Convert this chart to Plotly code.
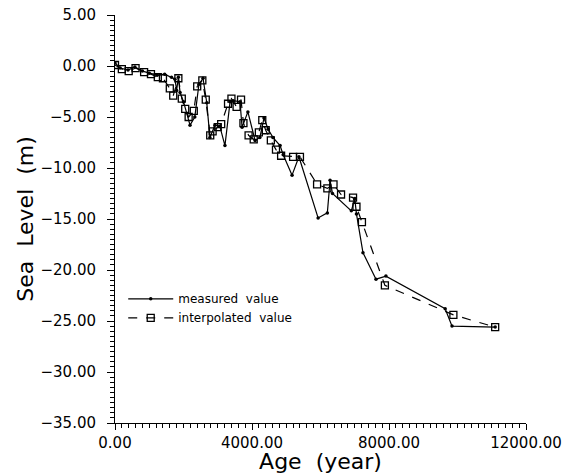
import plotly.graph_objects as go

# Measured values
meas_age = [0, 150, 380, 580, 800, 1000, 1230, 1450, 1650, 1750, 1800, 1850, 1900, 2000,
            2190, 2330, 2450, 2570, 2680, 2770, 2920, 3060, 3210, 3360, 3450, 3650, 3710,
            3880, 4090, 4230, 4350, 4470, 4610, 4820, 4910, 5170, 5370, 5930, 6200, 6280,
            6350, 6900, 7000, 7050, 7240, 7620, 7910, 9640, 9840, 11100]
meas_level = [0.3, -0.2, -0.4, -0.1, -0.5, -0.7, -0.9, -0.8, -1.1, -1.3, -2.4, -1.1, -2.6, -3.5,
              -5.8, -5.0, -1.8, -1.2, -3.6, -7.0, -5.8, -5.9, -7.8, -3.5, -3.4, -3.5, -6.0,
              -4.5, -7.3, -7.0, -5.1, -6.2, -7.0, -7.8, -8.7, -10.7, -8.9, -14.9, -14.4, -11.2,
              -12.5, -14.2, -13.0, -14.5, -18.3, -20.9, -20.6, -23.8, -25.5, -25.6]

# Interpolated values
interp_age = [0, 200, 400, 600, 850, 1050, 1250, 1400, 1600, 1700, 1850, 1950, 2050, 2150,
              2300, 2400, 2550, 2650, 2780, 2850, 3000, 3100, 3300, 3400, 3550, 3680, 3750,
              3900, 4050, 4200, 4300, 4400, 4550, 4700, 4850, 5200, 5400, 5900, 6200, 6380,
              6600, 6950, 7050, 7210, 7880, 9880, 11100]
interp_level = [0.1, -0.3, -0.5, -0.2, -0.6, -0.8, -1.1, -1.2, -2.2, -2.9, -1.2, -3.2, -4.2, -5.0,
                -4.4, -2.0, -1.4, -3.3, -6.8, -6.4, -6.0, -5.7, -3.7, -3.2, -4.0, -3.3, -5.6,
                -6.8, -7.2, -6.5, -5.3, -6.3, -7.3, -8.2, -8.8, -8.9, -8.9, -11.6, -12.0, -11.6,
                -12.6, -12.9, -13.8, -15.3, -21.5, -24.4, -25.6]

FONT = "DejaVu Sans"

fig = go.Figure()
fig.add_trace(go.Scatter(
    x=meas_age, y=meas_level, mode="lines+markers", name="measured  value",
    line=dict(color="black", width=1.2),
    marker=dict(symbol="circle", size=3.5, color="black"),
))
fig.add_trace(go.Scatter(
    x=interp_age, y=interp_level, mode="lines+markers", name="interpolated  value",
    line=dict(color="black", width=1.2, dash="dash"),
    marker=dict(symbol="square-open", size=7, color="black", line=dict(width=1.3)),
))

fig.update_layout(
    width=568, height=474,
    margin=dict(l=115, r=42, t=15, b=51),
    paper_bgcolor="white", plot_bgcolor="white",
    font=dict(family=FONT, color="black", size=15),
    showlegend=True,
    legend=dict(x=0.02, y=0.34, xanchor="left", yanchor="top",
                bgcolor="rgba(0,0,0,0)", font=dict(size=12, family=FONT),
                itemwidth=45, tracegroupgap=0),
    xaxis=dict(
        range=[0, 12000], tickvals=[0, 4000, 8000, 12000], tickformat=".2f",
        showgrid=False, zeroline=False, showline=True, linecolor="black", linewidth=1,
        ticks="outside", ticklen=6, tickcolor="black", tickwidth=1,
        tickfont=dict(size=15), automargin=False,
        minor=dict(dtick=200, ticks="outside", ticklen=4, tickcolor="black", tickwidth=1, showgrid=False),
        title=dict(text="Age  (year)", font=dict(size=22), standoff=0),
    ),
    yaxis=dict(
        range=[-35, 5], dtick=5, tick0=0, tickformat=".2f",
        showgrid=False, zeroline=False, showline=True, linecolor="black", linewidth=1,
        ticks="outside", ticklen=7, tickcolor="black", tickwidth=1,
        tickfont=dict(size=15), ticklabelstandoff=8, automargin=False,
        minor=dict(dtick=0.5, ticks="outside", ticklen=4, tickcolor="black", tickwidth=1, showgrid=False),
        title=dict(text="Sea  Level  (m)", font=dict(size=22), standoff=0),
    ),
)

fig.write_html("out.html")
